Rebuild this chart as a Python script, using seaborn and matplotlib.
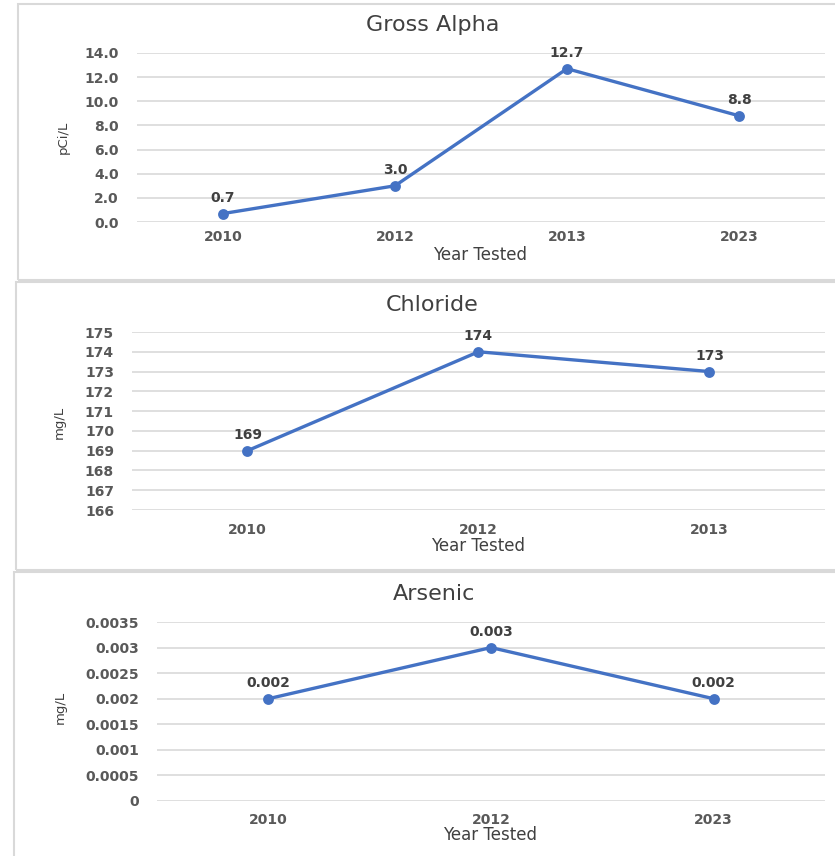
import matplotlib
matplotlib.use("Agg")
import matplotlib.pyplot as plt
from matplotlib.patches import Rectangle
from matplotlib.ticker import FuncFormatter, MultipleLocator
import seaborn as sns
import pandas as pd

# Sampling results by year
alpha_years = ["2010", "2012", "2013", "2023"]
alpha_values = [0.7, 3.0, 12.7, 8.8]

chloride_years = ["2010", "2012", "2013"]
chloride_values = [169, 174, 173]

arsenic_years = ["2010", "2012", "2023"]
arsenic_values = [0.002, 0.003, 0.002]

sns.set_theme(style="white")
plt.rcParams["font.family"] = ["DejaVu Sans"]

W, H = 835, 856
fig = plt.figure(figsize=(W / 100, H / 100), dpi=100)

BLUE = "#4472C4"
GRID = "#D9D9D9"
TICK = "#595959"
LABEL = "#404040"


def fx(px):
    return px / W


def fy(py):
    return 1 - py / H


# panel frames
for (x0, y0, x1, y1) in [(18, 4, 840, 280), (16, 282, 840, 570), (14, 572, 840, 870)]:
    fig.patches.append(Rectangle((fx(x0), fy(y1)), fx(x1 - x0), (y1 - y0) / H,
                                 transform=fig.transFigure, facecolor="none",
                                 edgecolor=GRID, linewidth=1.5, zorder=-1))


def panel(rect, years, values, ylim, step, fmt, label_fmt, title, title_xy,
          ylab, ylab_xy, xlab_xy, xpad):
    left, top, right, bottom = rect
    ax = fig.add_axes([fx(left), fy(bottom), fx(right - left), (bottom - top) / H])
    ax.patch.set_alpha(0)
    df = pd.DataFrame({"year": years, "value": values})
    sns.pointplot(data=df, x="year", y="value", ax=ax, color=BLUE,
                  markers="o", markersize=6, linewidth=2.4, zorder=3)
    ax.set_xlim(-0.5, len(years) - 0.5)
    ax.set_ylim(*ylim)
    ax.yaxis.set_major_locator(MultipleLocator(step))
    ax.yaxis.set_major_formatter(FuncFormatter(fmt))
    ax.grid(axis="y", color=GRID, linewidth=1.2)
    ax.set_axisbelow(True)
    for s in ax.spines.values():
        s.set_visible(False)
    ax.tick_params(axis="y", length=0, pad=13, labelsize=10, labelcolor=TICK)
    ax.tick_params(axis="x", length=0, pad=xpad, labelsize=10, labelcolor=TICK)
    for lbl in ax.get_xticklabels() + ax.get_yticklabels():
        lbl.set_fontweight("semibold")
    ax.set_xlabel("")
    ax.set_ylabel("")
    for i, v in enumerate(values):
        ax.annotate(label_fmt(v), (i, v), xytext=(0, 11.5), textcoords="offset points",
                    ha="center", va="center", fontsize=10, color=LABEL,
                    fontweight="semibold")
    fig.text(fx(title_xy[0]), fy(title_xy[1]), title, ha="center", va="center",
             fontsize=16, color=LABEL)
    fig.text(fx(ylab_xy[0]), fy(ylab_xy[1]), ylab, ha="center", va="center",
             rotation=90, fontsize=9.5, color=LABEL)
    fig.text(fx(xlab_xy[0]), fy(xlab_xy[1]), "Year Tested", ha="center",
             va="center", fontsize=12, color=LABEL)
    return ax


panel((137, 53, 825, 222), alpha_years, alpha_values, (0, 14), 2,
      lambda v, p: f"{v:.1f}", lambda v: f"{v:.1f}",
      "Gross Alpha", (433, 25), "pCi/L", (63, 137), (480, 255), 6)

panel((132, 332, 825, 510), chloride_years, chloride_values, (166, 175), 1,
      lambda v, p: f"{v:.0f}", lambda v: f"{v:.0f}",
      "Chloride", (432, 305), "mg/L", (59, 422), (478, 546), 9)

panel((157, 622, 825, 801), arsenic_years, arsenic_values, (0, 0.0035), 0.0005,
      lambda v, p: f"{round(v, 6):g}", lambda v: f"{v:g}",
      "Arsenic", (434, 594), "mg/L", (60, 707), (490, 835), 9)

fig.savefig("out.png", dpi=100)
